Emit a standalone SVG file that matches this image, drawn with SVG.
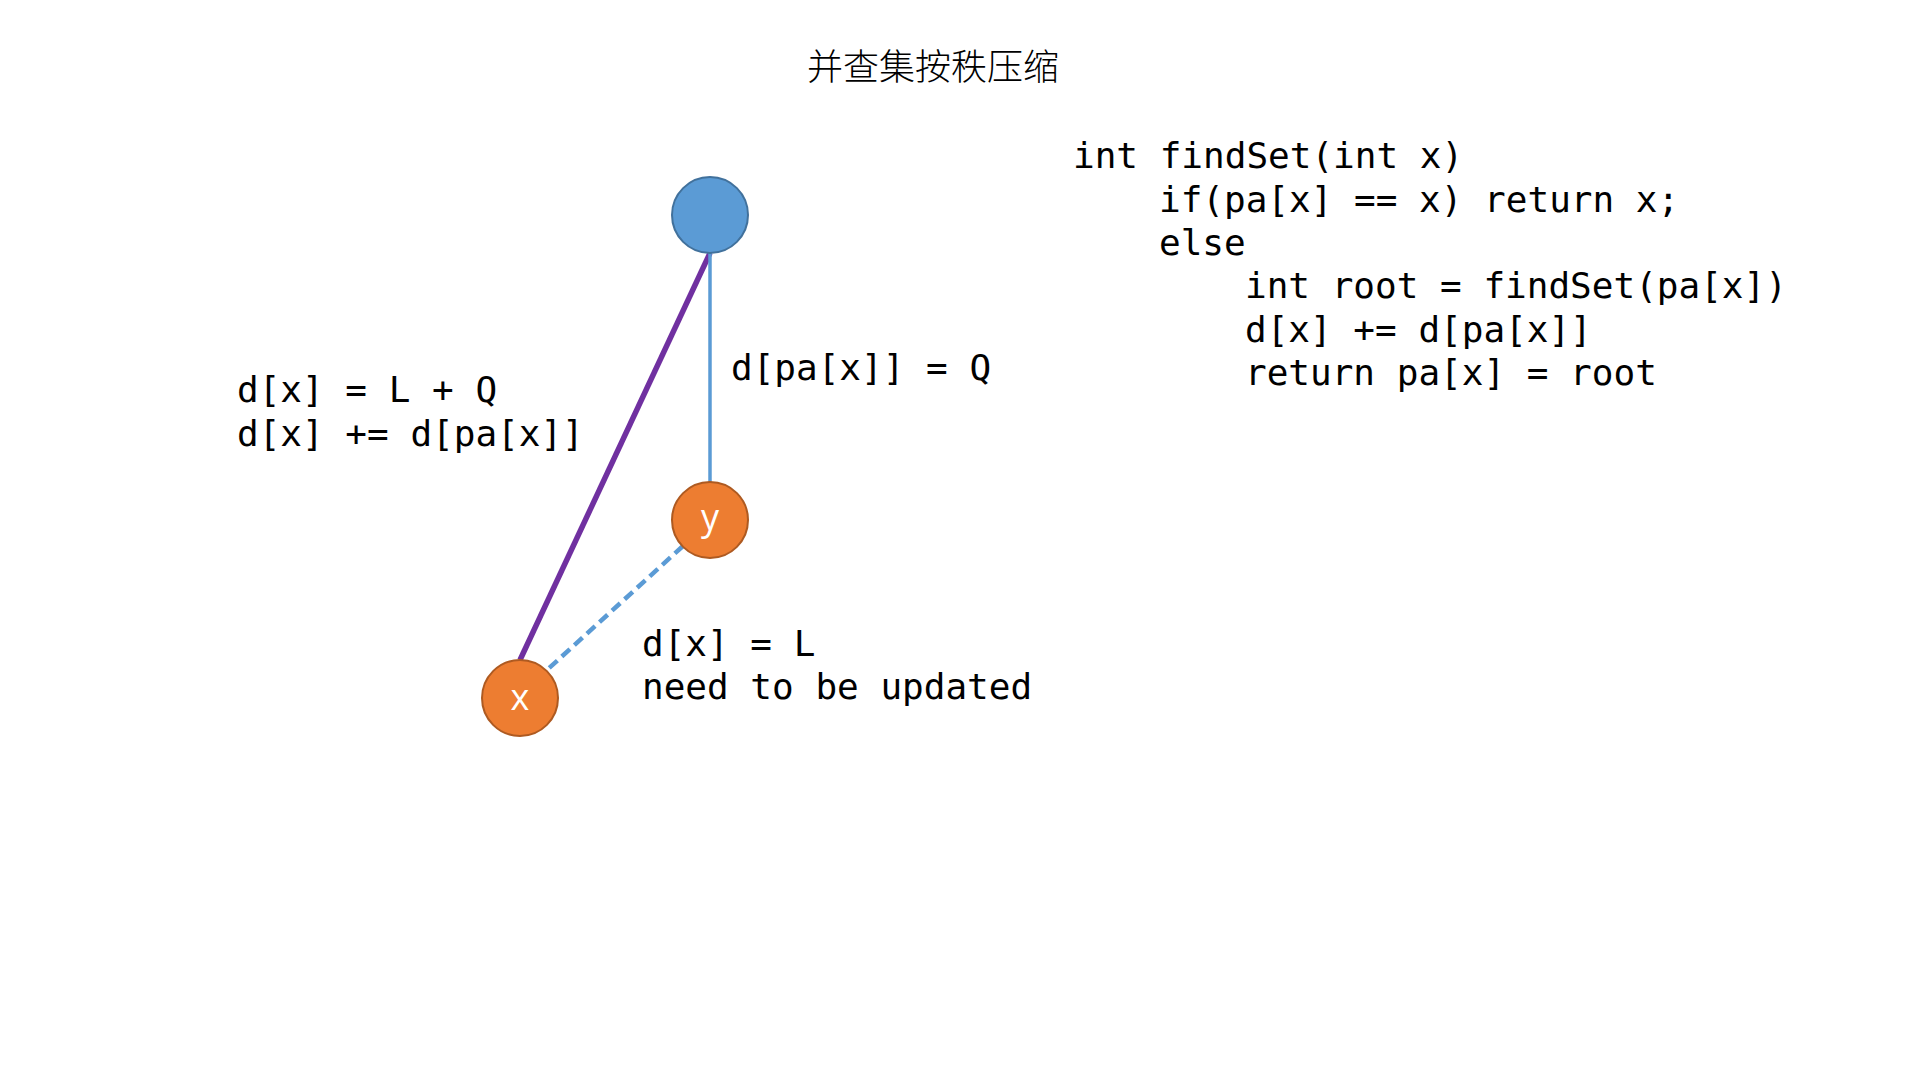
<svg xmlns="http://www.w3.org/2000/svg" width="1920" height="1080" viewBox="0 0 1920 1080">
  <style>
    .code { font-family: "DejaVu Sans Mono", "Liberation Mono", monospace; font-size: 36px; fill: #000000; }
    .title { font-family: "Liberation Serif", "Noto Sans CJK SC", serif; font-size: 36px; fill: #000000; font-weight: 300; }
    .nodelbl { font-family: "Open Sans", "Liberation Sans", sans-serif; font-size: 36px; fill: #ffffff; text-anchor: middle; }
    .blue { fill: #5B9BD5; stroke: #41719C; stroke-width: 2; }
    .orange { fill: #ED7D31; stroke: #AE5A21; stroke-width: 2; }
  </style>
  <rect x="0" y="0" width="1920" height="1080" fill="#ffffff"/>

  <text class="title" x="933" y="80" text-anchor="middle">并查集按秩压缩</text>

  <g id="connectors">
    <line x1="710" y1="253" x2="520" y2="660" stroke="#7030A0" stroke-width="5.5"/>
    <line x1="710" y1="253" x2="710" y2="482" stroke="#5B9BD5" stroke-width="3.5"/>
    <line x1="683" y1="546" x2="547" y2="670" stroke="#5B9BD5" stroke-width="4.5" stroke-dasharray="11,6"/>
  </g>

  <g id="node-root">
    <circle class="blue" cx="710" cy="215" r="38"/>
  </g>
  <g id="node-y">
    <circle class="orange" cx="710" cy="520" r="38"/>
    <text class="nodelbl" x="710" y="530">y</text>
  </g>
  <g id="node-x">
    <circle class="orange" cx="520" cy="698" r="38"/>
    <text class="nodelbl" x="520" y="710">x</text>
  </g>

  <g id="labels">
    <text class="code" x="731" y="380">d[pa[x]] = Q</text>
    <text class="code" x="237" y="402">d[x] = L + Q</text>
    <text class="code" x="237" y="446">d[x] += d[pa[x]]</text>
    <text class="code" x="642" y="656">d[x] = L</text>
    <text class="code" x="642" y="699">need to be updated</text>
  </g>

  <g id="code">
    <text class="code" x="1073" y="168">int findSet(int x)</text>
    <text class="code" x="1159" y="212">if(pa[x] == x) return x;</text>
    <text class="code" x="1159" y="255">else</text>
    <text class="code" x="1245" y="298">int root = findSet(pa[x])</text>
    <text class="code" x="1245" y="342">d[x] += d[pa[x]]</text>
    <text class="code" x="1245" y="385">return pa[x] = root</text>
  </g>
</svg>
